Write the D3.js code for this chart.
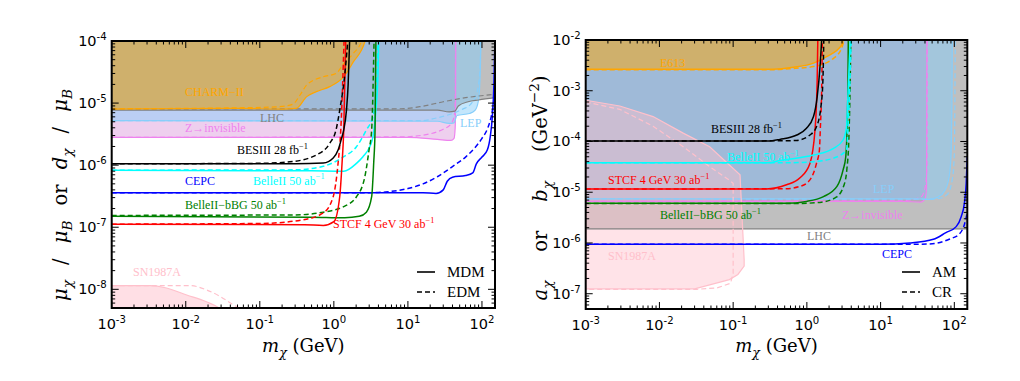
<!DOCTYPE html>
<html><head><meta charset="utf-8">
<script src="https://cdn.jsdelivr.net/npm/d3@7"></script>
<style>body{margin:0;background:#fff}</style>
</head><body>
<svg id="c" width="1020" height="381" xmlns="http://www.w3.org/2000/svg"></svg>
<script>
// ---------------- data ----------------
const massDomain = [1e-3, 150];
const leftYDomain = [5e-9, 1e-4];
const rightYDomain = [5e-8, 1e-2];
const xTickLabels = ["-3","-2","-1","0","1","2"];
const leftYTickLabels = ["-8","-7","-6","-5","-4"];
const rightYTickLabels = ["-7","-6","-5","-4","-3","-2"];

// Left panel (MDM solid / EDM dashed), [mass GeV, coupling]
const L_CHARM_MDM = [[1e-3,8.0e-6],[0.05,8.2e-6],[0.2,8.0e-6],[0.31,8.2e-6],[0.43,1.27e-5],[0.58,1.53e-5],[0.88,1.84e-5],[1.36,2.66e-5],[1.83,4.6e-5],[2.64,1e-4],[2.8,1.3e-4]];
const L_CHARM_EDM = [[1e-3,8.1e-6],[0.05,8.4e-6],[0.168,8.7e-6],[0.28,9.6e-6],[0.35,1.35e-5],[0.43,1.96e-5],[0.72,2.66e-5],[1.07,3.0e-5],[1.36,4.3e-5],[1.83,6.3e-5],[2.36,1e-4],[2.5,1.3e-4]];
const L_LHC_MDM = [[1e-3,7.7e-6],[25,7.7e-6],[36,7.2e-6],[43,7.4e-6],[48,9e-6],[65,1.05e-5],[90,1.12e-5],[150,1.22e-5]];
const L_LHC_EDM = [[1e-3,8.0e-6],[8,8.1e-6],[15,8.8e-6],[30,1.05e-5],[60,1.22e-5],[150,1.38e-5]];
const L_LEP_MDM = [[1e-3,5.2e-6],[25,5.1e-6],[36,4.7e-6],[42,4.8e-6],[46,6.3e-6],[68,6.8e-6],[81,7.7e-6],[89,1.05e-5],[92.5,1.6e-5],[96,6e-5],[97,2e-4]];
const L_LEP_EDM = [[1e-3,5.2e-6],[15,5.2e-6],[25,5.8e-6],[40,6.8e-6],[55,8e-6],[70,9.5e-6],[82,1.3e-5],[90,2e-5],[95,5e-5],[97,1.2e-4]];
const L_ZINV_MDM = [[1e-3,2.8e-6],[10,2.8e-6],[25,2.6e-6],[38,2.5e-6],[42,2.7e-6],[43.5,4e-6],[44,1e-5],[44.3,1e-4],[44.5,2e-4]];
const L_ZINV_EDM = [[1e-3,2.8e-6],[8,2.85e-6],[20,3.2e-6],[30,3.8e-6],[38,4.6e-6],[42,6e-6],[43.5,1e-5],[44,1.2e-4]];
const L_BESIII_MDM = [[1e-3,1.05e-6],[0.3,1.05e-6],[0.72,1.08e-6],[0.98,1.3e-6],[1.14,1.75e-6],[1.27,2.7e-6],[1.36,3.7e-6],[1.48,7.7e-6],[1.56,2e-5],[1.64,1.2e-4]];
const L_BESIII_EDM = [[1e-3,1.05e-6],[0.1,1.07e-6],[0.255,1.13e-6],[0.58,1.46e-6],[0.88,2.25e-6],[1.07,3.7e-6],[1.2,7.7e-6],[1.41,3e-5],[1.56,1.2e-4]];
const L_BELLE_MDM = [[1e-3,8.3e-7],[0.5,8.1e-7],[1.36,8.0e-7],[2.02,1.07e-6],[2.47,1.37e-6],[3.05,1.98e-6],[3.38,2.9e-6],[3.7,8e-6],[3.95,3e-5],[4.05,1.2e-4]];
const L_BELLE_EDM = [[1e-3,8.3e-7],[0.3,8.4e-7],[0.72,9.6e-7],[1.36,1.37e-6],[2.02,1.98e-6],[2.75,3.7e-6],[3.38,6.1e-6],[3.75,1.6e-5],[3.95,1.2e-4]];
const L_CEPC_MDM = [[1e-3,3.6e-7],[16,3.6e-7],[24,3.5e-7],[30,4.0e-7],[34,5.5e-7],[40,6.4e-7],[60,6.8e-7],[75,7.5e-7],[84,1.05e-6],[100,1.35e-6],[118,1.75e-6],[130,3e-6],[138,6e-6],[145,2e-5],[150,1.2e-4]];
const L_CEPC_EDM = [[1e-3,3.6e-7],[3,3.6e-7],[5,3.7e-7],[10,4.2e-7],[16,5e-7],[25,6.5e-7],[40,9.5e-7],[60,1.35e-6],[80,1.9e-6],[100,2.7e-6],[120,4e-6],[135,6.5e-6],[145,1.1e-5],[150,1.5e-5]];
const L_BBG_MDM = [[1e-3,1.5e-7],[0.5,1.45e-7],[1.4,1.42e-7],[2.2,1.5e-7],[2.75,1.75e-7],[3.24,3.1e-7],[3.45,1.07e-6],[3.6,3.7e-6],[3.7,1.2e-4]];
const L_BBG_EDM = [[1e-3,1.55e-7],[0.3,1.58e-7],[0.72,1.75e-7],[1.36,2.15e-7],[2.02,3.1e-7],[2.62,6.5e-7],[2.99,1.77e-6],[3.24,3.7e-6],[3.5,1.2e-4]];
const L_STCF_MDM = [[1e-3,1.12e-7],[0.4,1.1e-7],[0.72,1.07e-7],[1.0,1.23e-7],[1.2,3.1e-7],[1.29,1.07e-6],[1.36,3.7e-6],[1.45,1.2e-4]];
const L_STCF_EDM = [[1e-3,1.12e-7],[0.1,1.15e-7],[0.386,1.32e-7],[0.72,1.7e-7],[0.98,3.1e-7],[1.14,1.07e-6],[1.24,3.7e-6],[1.38,1.2e-4]];
const L_SN_MDM = [[1e-3,1.15e-8],[3.3e-3,1.15e-8],[5.5e-3,1.05e-8],[0.0103,8.1e-9],[0.019,6.3e-9],[0.029,4.9e-9],[0.035,4e-9]];
const L_SN_EDM = [[1e-3,1.15e-8],[0.0114,1.15e-8],[0.019,9.8e-9],[0.029,7.7e-9],[0.044,5.6e-9],[0.054,4.9e-9],[0.06,4.3e-9]];

// Right panel (AM solid / CR dashed)
const R_E613_AM = [[1e-3,2.65e-3],[0.35,2.65e-3],[0.66,2.9e-3],[1.23,3.5e-3],[1.85,4.7e-3],[2.96,7.9e-3],[3.2,1.2e-2]];
const R_E613_CR = [[1e-3,2.6e-3],[0.35,2.6e-3],[0.66,2.75e-3],[1.23,3.0e-3],[2.3,4.35e-3],[2.96,6.9e-3],[3.3,1.2e-2]];
const R_LHC_AM = [[1e-3,1.9e-6],[150,1.9e-6]];
const R_LEP_AM = [[1e-3,7.4e-6],[30,7.4e-6],[45,7.2e-6],[60,8e-6],[75,1.1e-5],[85,2e-5],[90,5e-5],[93,1e-3],[94,1.2e-2]];
const R_LEP_CR = [[1e-3,7.4e-6],[40,7.3e-6],[60,7.5e-6],[80,9e-6],[95,2e-5],[100,6e-5],[102,1e-3],[103,1.2e-2]];
const R_ZINV_AM = [[1e-3,6.6e-6],[20,6.6e-6],[35,6.4e-6],[40,7.5e-6],[42,1.2e-5],[42.5,1.2e-2]];
const R_ZINV_CR = [[1e-3,6.6e-6],[20,6.8e-6],[35,8e-6],[40,1.2e-5],[42.5,3e-5],[43,1.2e-2]];
const R_BESIII_AM = [[1e-3,1.02e-4],[0.3,1.02e-4],[0.43,1.1e-4],[0.73,1.34e-4],[0.98,1.8e-4],[1.23,3.1e-4],[1.38,7.6e-4],[1.52,3.5e-3],[1.6,1.2e-2]];
const R_BESIII_CR = [[1e-3,1.02e-4],[0.5,1.03e-4],[0.73,1.05e-4],[1.1,1.34e-4],[1.35,1.95e-4],[1.55,4.8e-4],[1.65,1.6e-3],[1.7,1.2e-2]];
const R_BELLE_AM = [[1e-3,3.8e-5],[0.3,3.8e-5],[0.43,4.2e-5],[1.23,5.4e-5],[2.3,7.3e-5],[3.1,1.07e-4],[3.45,1.9e-4],[3.6,7.6e-4],[3.9,1.2e-2]];
const R_BELLE_CR = [[1e-3,3.8e-5],[0.5,3.8e-5],[1.23,4e-5],[2.3,4.7e-5],[3.45,6.8e-5],[3.6,1.7e-4],[3.8,1e-3],[4.0,1.2e-2]];
const R_STCF_AM = [[1e-3,1.16e-5],[0.28,1.16e-5],[0.53,1.4e-5],[0.8,1.9e-5],[1.1,3.7e-5],[1.29,1.7e-4],[1.38,1.6e-3],[1.41,1.2e-2]];
const R_STCF_CR = [[1e-3,1.16e-5],[0.5,1.17e-5],[0.8,1.3e-5],[1.1,1.75e-5],[1.35,3.7e-5],[1.48,6.8e-5],[1.52,1.7e-4],[1.6,2e-3],[1.62,1.2e-2]];
const R_BBG_AM = [[1e-3,6.05e-6],[0.5,6.05e-6],[0.99,6.6e-6],[1.68,8.2e-6],[2.56,1.3e-5],[3.1,2.75e-5],[3.37,5e-5],[3.6,1e-3],[3.65,1.2e-2]];
const R_BBG_CR = [[1e-3,6.0e-6],[0.7,6.0e-6],[1.5,6.3e-6],[2.5,8e-6],[3.2,1.4e-5],[3.5,3e-5],[3.7,1e-4],[3.85,1e-3],[3.95,1.2e-2]];
const R_CEPC_AM = [[1e-3,9.4e-7],[10,9.4e-7],[25,1.0e-6],[52,1.18e-6],[77,1.6e-6],[106,2.1e-6],[124,3.3e-6],[137,6.1e-6],[145,1.5e-5],[150,5e-5]];
const R_CEPC_CR = [[1e-3,9.4e-7],[20,9.4e-7],[42,9.5e-7],[58,9.9e-7],[87,1.2e-6],[117,1.5e-6],[138,2.4e-6],[150,4e-6]];
const R_SN_AM = [[1e-3,6.5e-4],[2.9e-3,5.0e-4],[8.2e-3,3.1e-4],[0.021,1.46e-4],[0.048,7.9e-5],[0.124,2.2e-5],[0.141,4.7e-7],[0.141,3.5e-7],[0.116,2.4e-7],[0.089,1.9e-7],[0.03,1.25e-7],[1e-3,1.25e-7]];
const R_SN_CR = [[1e-3,6e-4],[2.9e-3,4.3e-4],[8.2e-3,2e-4],[0.021,7.9e-5],[0.048,3.2e-5],[0.09,1.7e-5],[0.1,1.5e-5],[0.1,2.5e-7],[0.092,1.6e-7],[0.06,1.3e-7],[0.032,1.22e-7],[1e-3,1.22e-7]];

// ---------------- styles ----------------
const C = {black:"#000000", cyan:"#00ffff", red:"#ff0000", green:"#008000", blue:"#0000ff",
  gray:"#808080", orange:"#ffa500", lep:"#87cefa", zinv:"#ee82ee", zfill:"#dda0dd", sn:"#ffc0cb"};
const SERIF = "'Liberation Serif','DejaVu Serif',serif";
const DSERIF = "'DejaVu Serif',serif";
const SANS = "'DejaVu Sans',sans-serif";

const svg = d3.select("#c");

function rich(g, x, y, parts, o) {
  let size = o.size;
  const build = () => {
    const t = g.append("text").attr("x", x).attr("y", y)
      .attr("font-family", o.font || SERIF).attr("font-size", size)
      .attr("fill", o.color || "#000").attr("text-anchor", o.anchor || "start");
    if (o.transform) t.attr("transform", o.transform);
    let cur = 0;
    parts.forEach(p => {
      let txt = p, shift = 0, s = null, ital = false;
      if (typeof p !== "string") { txt = p.t; ital = !!p.i;
        if (p.sup) { shift = -size * 0.42; s = size * 0.7; }
        if (p.sub) { shift = size * 0.25; s = size * 0.7; } }
      const ts = t.append("tspan").text(txt).attr("dy", shift - cur);
      cur = shift;
      if (s) ts.attr("font-size", s);
      if (ital) ts.attr("font-style", "italic");
    });
    return t;
  };
  let t = build();
  if (o.fit) {
    const w0 = t.node().getComputedTextLength();
    const ns = Math.min(o.maxSize || 20, size * o.fit / w0);
    if (Math.abs(ns - size) > 0.1) { t.remove(); size = ns; t = build(); }
    const w = t.node().getComputedTextLength();
    const nsp = parts.map(p => typeof p === "string" ? p : p.t).join("").split(" ").length - 1;
    if (nsp > 0 && o.fit > w + 2) t.attr("word-spacing", (o.fit - w) / nsp);
  }
  return t;
}

function panel(cfg) {
  const x = d3.scaleLog().domain(massDomain).range(cfg.xr);
  const y = d3.scaleLog().domain(cfg.yd).range(cfg.yr);
  const g = svg.append("g");
  const cid = "clip" + cfg.id;
  svg.append("defs").append("clipPath").attr("id", cid).append("rect")
    .attr("x", cfg.xr[0]).attr("y", cfg.yr[1]).attr("width", cfg.xr[1]-cfg.xr[0]).attr("height", cfg.yr[0]-cfg.yr[1]);
  const pg = g.append("g").attr("clip-path", `url(#${cid})`);
  const top = cfg.yr[1] - 5, bot = cfg.yr[0] + 5;
  cfg.fills.forEach(f => {
    let path;
    if (f.mode === "above") path = d3.area().x(d=>x(d[0])).y0(top).y1(d=>y(d[1])).curve(d3.curveMonotoneX)(f.data);
    else if (f.mode === "below") path = d3.area().x(d=>x(d[0])).y0(bot).y1(d=>y(d[1])).curve(d3.curveMonotoneX)(f.data);
    else path = d3.line().x(d=>x(d[0])).y(d=>y(d[1])).curve(d3.curveLinearClosed)(f.data);
    pg.append("path").attr("d", path).attr("fill", f.color).attr("fill-opacity", f.op).attr("stroke", "none");
  });
  cfg.lines.forEach(l => {
    const gen = d3.line().x(d=>x(d[0])).y(d=>y(d[1])).curve(l.closed ? d3.curveLinearClosed : d3.curveMonotoneX);
    pg.append("path").attr("d", gen(l.data)).attr("fill", "none").attr("stroke", l.color)
      .attr("stroke-width", l.w || 1.5).attr("stroke-dasharray", l.dash ? "5,3" : null);
  });
  cfg.labels.forEach(L => rich(g, L.x, L.y, L.parts, {size: 12, color: L.color}));
  const lg = cfg.legend;
  [[lg.y1, null, lg.t1], [lg.y2, "5,3", lg.t2]].forEach(([yy, dash, txt]) => {
    g.append("line").attr("x1", lg.x).attr("x2", lg.x + 18).attr("y1", yy).attr("y2", yy)
      .attr("stroke", "#000").attr("stroke-width", 1.6).attr("stroke-dasharray", dash);
    g.append("text").attr("x", lg.x + 30).attr("y", yy + 5).text(txt)
      .attr("font-family", SERIF).attr("font-size", 15);
  });
  const [x0, x1] = cfg.xr, [y0, y1] = cfg.yr;
  const isMaj = v => Math.abs(Math.log10(v) - Math.round(Math.log10(v))) < 1e-6;
  const tk = g.append("g").attr("stroke", "#000").attr("stroke-width", 1);
  x.ticks().forEach(v => { const px = x(v), L = isMaj(v) ? 7 : 3.5;
    tk.append("line").attr("x1", px).attr("x2", px).attr("y1", y0).attr("y2", y0 - L);
    tk.append("line").attr("x1", px).attr("x2", px).attr("y1", y1).attr("y2", y1 + L); });
  y.ticks().forEach(v => { const py = y(v), L = isMaj(v) ? 7 : 3.5;
    tk.append("line").attr("y1", py).attr("y2", py).attr("x1", x0).attr("x2", x0 + L);
    tk.append("line").attr("y1", py).attr("y2", py).attr("x1", x1).attr("x2", x1 - L); });
  g.append("rect").attr("x", x0).attr("y", y1).attr("width", x1 - x0).attr("height", y0 - y1)
    .attr("fill", "none").attr("stroke", "#000").attr("stroke-width", 2);
  x.ticks().filter(isMaj).forEach((v, i) => {
    rich(g, x(v), y0 + 21, ["10", {t: xTickLabels[i], sup: true}], {size: 14.5, font: SANS, anchor: "middle"});
  });
  y.ticks().filter(isMaj).forEach((v, i) => {
    rich(g, x0 - 5, y(v) + 5, ["10", {t: cfg.yTicks[i], sup: true}], {size: 14.5, font: SANS, anchor: "end"});
  });
  rich(g, (x0 + x1) / 2, 352, [{t:"m", i:true}, {t:"χ", sub:true, i:true}, " (GeV)"], {size: 17, font: DSERIF, anchor: "middle", fit: 83, maxSize: 18});
  rich(g, 0, 0, cfg.ylabel, {size: 17, font: DSERIF, anchor: "middle", fit: cfg.ylw, maxSize: 19.5,
    transform: `translate(${cfg.ylx},${cfg.yly}) rotate(-90)`});
}

panel({
  id: "L", xr: [111.7, 495], yd: leftYDomain, yr: [308, 41], yTicks: leftYTickLabels,
  ylx: 67, yly: 195, ylw: 212,
  ylabel: [{t:"μ", i:true}, {t:"χ", sub:true, i:true}, " / ", {t:"μ", i:true}, {t:"B", sub:true, i:true}, " or ",
           {t:"d", i:true}, {t:"χ", sub:true, i:true}, " / ", {t:"μ", i:true}, {t:"B", sub:true, i:true}],
  fills: [
    {data: L_ZINV_MDM, color: C.zfill, op: 0.5, mode: "above"},
    {data: L_LHC_MDM, color: C.gray, op: 0.5, mode: "above"},
    {data: L_LEP_MDM, color: C.lep, op: 0.5, mode: "above"},
    {data: L_CHARM_MDM, color: C.orange, op: 0.5, mode: "above"},
    {data: L_SN_MDM, color: C.sn, op: 0.5, mode: "below"},
  ],
  lines: [
    {data: L_ZINV_MDM, color: C.zinv, w: 1.2}, {data: L_ZINV_EDM, color: C.zinv, w: 1.2, dash: true},
    {data: L_LEP_MDM, color: C.lep, w: 1.2}, {data: L_LEP_EDM, color: C.lep, w: 1.2, dash: true},
    {data: L_LHC_MDM, color: C.gray, w: 1.2}, {data: L_LHC_EDM, color: C.gray, w: 1.2, dash: true},
    {data: L_CHARM_MDM, color: C.orange, w: 1.2}, {data: L_CHARM_EDM, color: C.orange, w: 1.2, dash: true},
    {data: L_SN_MDM, color: C.sn, w: 1.2}, {data: L_SN_EDM, color: C.sn, w: 1.2, dash: true},
    {data: L_CEPC_MDM, color: C.blue}, {data: L_CEPC_EDM, color: C.blue, dash: true},
    {data: L_BELLE_MDM, color: C.cyan}, {data: L_BELLE_EDM, color: C.cyan, dash: true},
    {data: L_BBG_MDM, color: C.green}, {data: L_BBG_EDM, color: C.green, dash: true},
    {data: L_STCF_MDM, color: C.red}, {data: L_STCF_EDM, color: C.red, dash: true},
    {data: L_BESIII_MDM, color: C.black}, {data: L_BESIII_EDM, color: C.black, dash: true},
  ],
  labels: [
    {x: 185, y: 96, color: C.orange, parts: ["CHARM−II"]},
    {x: 260, y: 121.5, color: C.gray, parts: ["LHC"]},
    {x: 185, y: 131.5, color: C.zinv, parts: ["Z→invisible"]},
    {x: 460, y: 127, color: C.lep, parts: ["LEP"]},
    {x: 237, y: 154, color: C.black, parts: ["BESIII 28 fb", {t:"−1", sup:true}]},
    {x: 185, y: 184.5, color: C.blue, parts: ["CEPC"]},
    {x: 253, y: 184.5, color: C.cyan, parts: ["BelleII 50 ab", {t:"−1", sup:true}]},
    {x: 185, y: 209, color: C.green, parts: ["BelleII−bBG 50 ab", {t:"−1", sup:true}]},
    {x: 333, y: 228, color: C.red, parts: ["STCF 4 GeV 30 ab", {t:"−1", sup:true}]},
    {x: 133, y: 275.5, color: C.sn, parts: ["SN1987A"]},
  ],
  legend: {x: 417, y1: 272, y2: 292, t1: "MDM", t2: "EDM"},
});

panel({
  id: "R", xr: [585.7, 967.3], yd: rightYDomain, yr: [309, 40], yTicks: rightYTickLabels,
  ylx: 547, yly: 188, ylw: 225,
  ylabel: [{t:"a", i:true}, {t:"χ", sub:true, i:true}, " or ", {t:"b", i:true}, {t:"χ", sub:true, i:true}, " (GeV", {t:"−2", sup:true}, ")"],
  fills: [
    {data: R_ZINV_AM, color: C.zfill, op: 0.5, mode: "above"},
    {data: R_LHC_AM, color: C.gray, op: 0.5, mode: "above"},
    {data: R_LEP_AM, color: C.lep, op: 0.5, mode: "above"},
    {data: R_E613_AM, color: C.orange, op: 0.5, mode: "above"},
    {data: R_SN_AM, color: C.sn, op: 0.45, mode: "closed"},
  ],
  lines: [
    {data: R_ZINV_AM, color: C.zinv, w: 1.2}, {data: R_ZINV_CR, color: C.zinv, w: 1.2, dash: true},
    {data: R_LEP_AM, color: C.lep, w: 1.2}, {data: R_LEP_CR, color: C.lep, w: 1.2, dash: true},
    {data: R_LHC_AM, color: C.gray, w: 1.2},
    {data: R_E613_AM, color: C.orange, w: 1.5}, {data: R_E613_CR, color: C.orange, w: 1.5, dash: true},
    {data: R_SN_AM, color: C.sn, w: 1.2, closed: true}, {data: R_SN_CR, color: C.sn, w: 1.2, dash: true, closed: true},
    {data: R_CEPC_AM, color: C.blue}, {data: R_CEPC_CR, color: C.blue, dash: true},
    {data: R_BBG_AM, color: C.green}, {data: R_BBG_CR, color: C.green, dash: true},
    {data: R_STCF_AM, color: C.red}, {data: R_STCF_CR, color: C.red, dash: true},
    {data: R_BELLE_AM, color: C.cyan}, {data: R_BELLE_CR, color: C.cyan, dash: true},
    {data: R_BESIII_AM, color: C.black}, {data: R_BESIII_CR, color: C.black, dash: true},
  ],
  labels: [
    {x: 660, y: 67, color: C.orange, parts: ["E613"]},
    {x: 711, y: 133, color: C.black, parts: ["BESIII 28 fb", {t:"−1", sup:true}]},
    {x: 727, y: 161, color: C.cyan, parts: ["BelleII 50 ab", {t:"−1", sup:true}]},
    {x: 608, y: 184, color: C.red, parts: ["STCF 4 GeV 30 ab", {t:"−1", sup:true}]},
    {x: 873, y: 193, color: C.lep, parts: ["LEP"]},
    {x: 660, y: 219, color: C.green, parts: ["BelleII−bBG 50 ab", {t:"−1", sup:true}]},
    {x: 842, y: 219, color: C.zinv, parts: ["Z→invisible"]},
    {x: 807, y: 239.5, color: C.gray, parts: ["LHC"]},
    {x: 608, y: 260, color: C.sn, parts: ["SN1987A"]},
    {x: 882, y: 258, color: C.blue, parts: ["CEPC"]},
  ],
  legend: {x: 902, y1: 272, y2: 292, t1: "AM", t2: "CR"},
});
</script></body></html>
